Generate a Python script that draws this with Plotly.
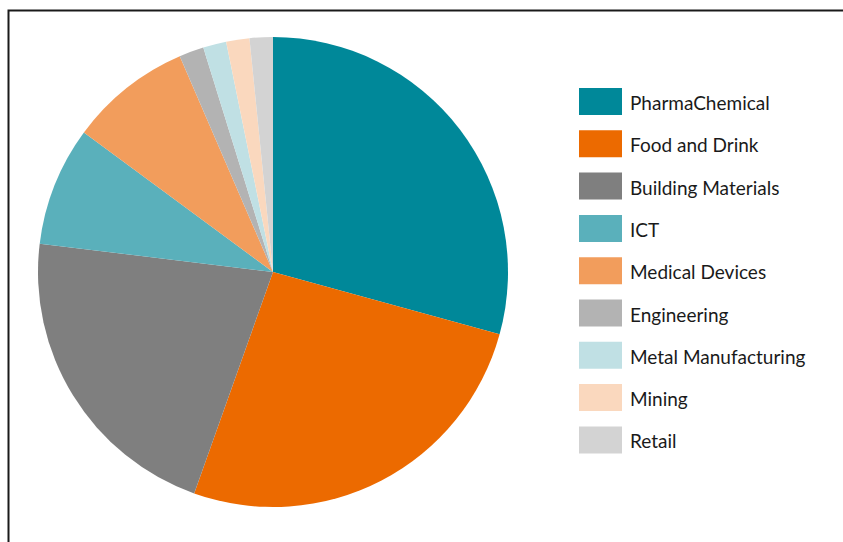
import plotly.graph_objects as go

# ---- data ----
sectors = ["PharmaChemical", "Food and Drink", "Building Materials", "ICT",
           "Medical Devices", "Engineering", "Metal Manufacturing", "Mining", "Retail"]
shares = [29.3, 26.2, 21.5, 8.2, 8.4, 1.7, 1.6, 1.6, 1.6]
colors = ["#008899", "#EC6A00", "#7F7F7F", "#5AB0BB", "#F29D5C",
          "#B3B3B3", "#C0E0E4", "#FAD8BE", "#D3D3D3"]
title_text = "Largest Sectors of Irish-Owned Exports to the UK Market (2013)"

W, H = 843, 542

def px_x(x):
    return x / W

def px_y(y):
    return 1 - y / H

fig = go.Figure()
fig.add_trace(go.Pie(
    labels=sectors,
    values=shares,
    marker=dict(colors=colors, line=dict(width=0)),
    sort=False,
    direction="clockwise",
    rotation=0,
    textinfo="none",
    hoverinfo="label+percent",
    showlegend=False,
    domain=dict(x=[px_x(38), px_x(508)], y=[px_y(507), px_y(37)]),
))

shapes = []
annotations = []

# title (mostly cut off at the top of the page, as in the reference)
annotations.append(dict(xref="paper", yref="paper", x=px_x(421), y=px_y(-10.7),
                        xanchor="center", yanchor="middle",
                        text="<b>" + title_text + "</b>", showarrow=False,
                        font=dict(family="Liberation Sans, Arial, sans-serif",
                                  size=20, color="black")))

# frame around the chart area (extends beyond the visible page)
shapes.append(dict(type="rect", xref="paper", yref="paper",
                   x0=px_x(8.5), x1=1.05, y0=-0.05, y1=px_y(10.5),
                   line=dict(color="#1a1a1a", width=2), fillcolor="rgba(0,0,0,0)",
                   layer="above"))

# custom legend with large swatches
row0 = 101.5
pitch = 42.3
for i, (name, col) in enumerate(zip(sectors, colors)):
    cy = row0 + i * pitch
    shapes.append(dict(type="rect", xref="paper", yref="paper",
                       x0=px_x(579), x1=px_x(622),
                       y0=px_y(cy + 13.5), y1=px_y(cy - 13.5),
                       fillcolor=col, line=dict(width=0)))
    annotations.append(dict(xref="paper", yref="paper", x=px_x(628), y=px_y(cy + 1),
                            xanchor="left", yanchor="middle", text=name,
                            showarrow=False,
                            font=dict(family="Lato, Liberation Sans, sans-serif",
                                      size=19, color="#1a1a1a")))

fig.update_layout(
    width=W, height=H, autosize=False,
    margin=dict(l=0, r=0, t=0, b=0),
    paper_bgcolor="white", plot_bgcolor="white",
    shapes=shapes,
    annotations=annotations,
)

fig.write_html("out.html",
               config={"displayModeBar": False},
               post_script="document.body.style.margin='0';document.body.style.overflow='hidden';")
